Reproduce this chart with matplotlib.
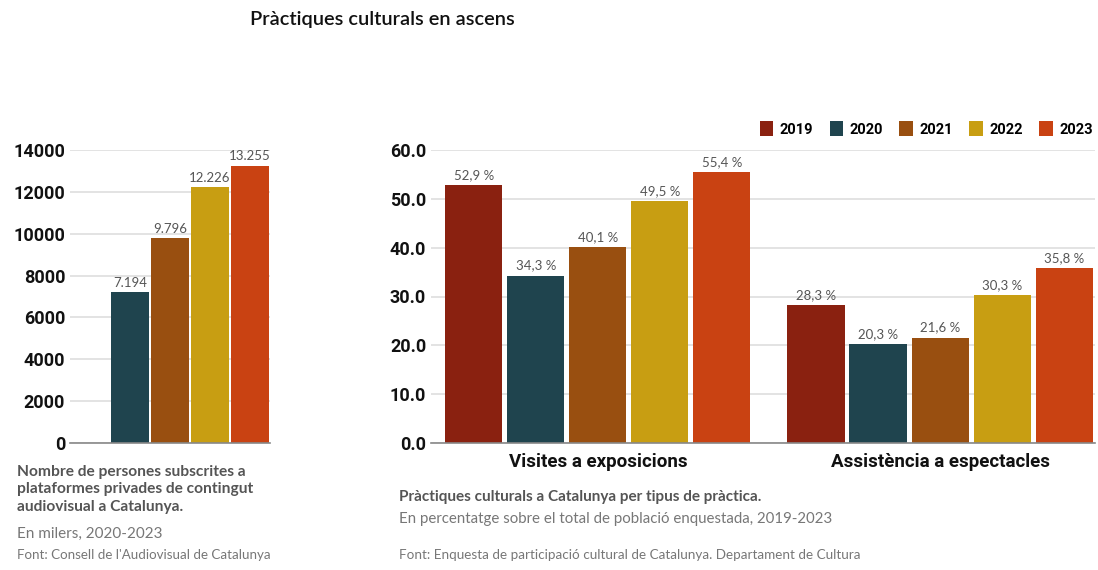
import matplotlib.pyplot as plt
from matplotlib.patches import Patch
from matplotlib import font_manager

# ---- data ----
years = ["2019", "2020", "2021", "2022", "2023"]
colors = ["#8a2110", "#1f444e", "#994f10", "#c89e12", "#c94212"]

subs_years = ["2019", "2020", "2021", "2022", "2023"]
subs_values = [None, 7194, 9796, 12226, 13255]
subs_labels = ["", "7.194", "9.796", "12.226", "13.255"]

practice_cats = ["Visites a exposicions", "Assistència a espectacles"]
visites = [52.9, 34.3, 40.1, 49.5, 55.4]
espectacles = [28.3, 20.3, 21.6, 30.3, 35.8]
practice_values = [visites, espectacles]

TEXT_GREY = "#555555"
LIGHT_GREY = "#777777"
GRID = "#e0e0e0"


def pick_font(candidates):
    names = {f.name for f in font_manager.fontManager.ttflist}
    for c in candidates:
        if c in names:
            return c
    return "DejaVu Sans"


NARROW = pick_font(["Liberation Sans Narrow", "Roboto", "DejaVu Sans"])
BODY = pick_font(["Lato", "Open Sans", "DejaVu Sans"])


def style_axes(ax):
    for s in ["left", "right", "top"]:
        ax.spines[s].set_visible(False)
    ax.spines["bottom"].set_color("#888888")
    ax.spines["bottom"].set_linewidth(1.2)
    ax.yaxis.grid(True, color=GRID, linewidth=1.3)
    ax.set_axisbelow(True)
    ax.tick_params(axis="both", length=0)
    for lab in ax.get_yticklabels():
        lab.set_fontfamily(NARROW)
        lab.set_fontweight("bold")
        lab.set_fontsize(13)
        lab.set_color("#111111")


fig = plt.figure(figsize=(10.98, 5.70), dpi=100)

# -----------------------
# left chart: subscribers
# -----------------------
ax1 = fig.add_axes([70 / 1098, 1 - 443 / 570, 200 / 1098, 293 / 570])
for i, (v, lab) in enumerate(zip(subs_values, subs_labels)):
    if v is None:
        continue
    ax1.bar(i, v, width=0.93, color=colors[i], zorder=2)
    ax1.text(i, v + 150, lab, ha="center", va="bottom", fontsize=9.5,
             color=TEXT_GREY, family=BODY)
ax1.set_xlim(-0.5, 4.5)
ax1.set_ylim(0, 14000)
ax1.set_yticks(range(0, 14001, 2000))
ax1.set_xticks([])
style_axes(ax1)

# -----------------------
# right chart: practices
# -----------------------
ax2 = fig.add_axes([431 / 1098, 1 - 443 / 570, 664 / 1098, 293 / 570])
step = 0.1813
width = 0.1667
for g, vals in enumerate(practice_values):
    for i, v in enumerate(vals):
        x = g + (i - 2) * step
        ax2.bar(x, v, width=width, color=colors[i], zorder=2)
        ax2.text(x, v + 0.8, f"{v:.1f} %".replace(".", ","), ha="center",
                 va="bottom", fontsize=9.5, color=TEXT_GREY, family=BODY)
ax2.set_xlim(-0.488, 1.453)
ax2.set_ylim(0, 60)
ax2.set_yticks(range(0, 61, 10))
ax2.set_yticklabels([f"{t:.1f}" for t in range(0, 61, 10)])
ax2.set_xticks(range(len(practice_cats)))
ax2.set_xticklabels(practice_cats, fontfamily=NARROW, fontweight="bold",
                    fontsize=13.5, color="#111111")
ax2.tick_params(axis="x", pad=7)
style_axes(ax2)

handles = [Patch(facecolor=c, edgecolor="none") for c in colors]
leg = fig.legend(handles, years, loc="center right",
                 bbox_to_anchor=(1100 / 1098, 1 - 129 / 570), ncol=5,
                 frameon=False, handlelength=0.9, handleheight=1.2,
                 handletextpad=0.45, columnspacing=1.15, borderpad=0,
                 prop={"family": NARROW, "weight": "bold", "size": 10.5})

# -----------------------
# titles and captions
# -----------------------
fig.text(250 / 1098, 1 - 20 / 570, "Pràctiques culturals en ascens",
         fontsize=14.4, family=BODY, fontweight="semibold", color="#111111",
         va="center")

fig.text(17 / 1098, 1 - 465 / 570,
         "Nombre de persones subscrites a\nplataformes privades de contingut\naudiovisual a Catalunya.",
         fontsize=11.2, family=BODY, fontweight="bold", color=TEXT_GREY,
         va="top", linespacing=1.3)
fig.text(17 / 1098, 1 - 527 / 570, "En milers, 2020-2023", fontsize=11,
         family=BODY, color=LIGHT_GREY, va="top")
fig.text(17 / 1098, 1 - 549 / 570, "Font: Consell de l'Audiovisual de Catalunya",
         fontsize=9.6, family=BODY, color=LIGHT_GREY, va="top")

fig.text(399 / 1098, 1 - 490 / 570,
         "Pràctiques culturals a Catalunya per tipus de pràctica.",
         fontsize=11, family=BODY, fontweight="bold", color=TEXT_GREY, va="top")
fig.text(399 / 1098, 1 - 512 / 570,
         "En percentatge sobre el total de població enquestada, 2019-2023",
         fontsize=10.8, family=BODY, color=LIGHT_GREY, va="top")
fig.text(399 / 1098, 1 - 549 / 570,
         "Font: Enquesta de participació cultural de Catalunya. Departament de Cultura",
         fontsize=9.7, family=BODY, color=LIGHT_GREY, va="top")

fig.savefig("out.png", dpi=100, facecolor="white")
